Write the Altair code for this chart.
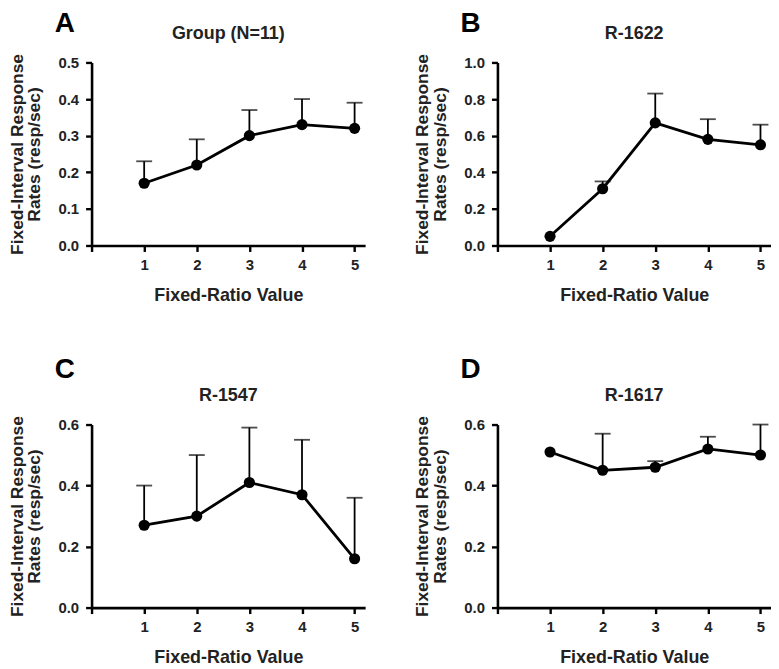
import altair as alt
import pandas as pd

ratio = [1, 2, 3, 4, 5]

a_mean = [0.17, 0.22, 0.30, 0.33, 0.32]
a_upper = [0.23, 0.29, 0.37, 0.40, 0.39]

b_mean = [0.05, 0.31, 0.67, 0.58, 0.55]
b_upper = [0.05, 0.35, 0.83, 0.69, 0.66]

c_mean = [0.27, 0.30, 0.41, 0.37, 0.16]
c_upper = [0.40, 0.50, 0.59, 0.55, 0.36]

d_mean = [0.51, 0.45, 0.46, 0.52, 0.50]
d_upper = [0.51, 0.57, 0.48, 0.56, 0.60]

letters = ["A", "B", "C", "D"]
titles = ["Group (N=11)", "R-1622", "R-1547", "R-1617"]
y_max = [0.5, 1.0, 0.6, 0.6]
y_ticks = [[0, 0.1, 0.2, 0.3, 0.4, 0.5],
           [0, 0.2, 0.4, 0.6, 0.8, 1.0],
           [0, 0.2, 0.4, 0.6],
           [0, 0.2, 0.4, 0.6]]
x_ticks = [0, 1, 2, 3, 4, 5]

FONT = "Liberation Sans"
W, H = 275, 184


def panel(mean, upper, letter, title, ymax, yticks, letter_y):
    df = pd.DataFrame({"ratio": ratio, "mean": mean, "upper": upper})
    xscale = alt.Scale(domain=[0, 5.2], nice=False, zero=False)
    xaxis = alt.Axis(values=x_ticks, labelExpr="datum.value == 0 ? '' : datum.label",
                     title="Fixed-Ratio Value")
    yscale = alt.Scale(domain=[0, ymax], nice=False)
    yaxis = alt.Axis(values=yticks, format=".1f", labelOverlap=False,
                     title=["Fixed-Interval Response", "Rates (resp/sec)"])

    def X():
        return alt.X("ratio:Q", scale=xscale, axis=xaxis)

    def Y(f):
        return alt.Y(f + ":Q", scale=yscale, axis=yaxis)

    base = alt.Chart(df)
    err = base.mark_rule(color="black", strokeWidth=1.8).encode(
        x=X(), y=Y("mean"), y2="upper:Q")
    cap = base.transform_filter("datum.upper > datum.mean").mark_tick(
        color="black", orient="horizontal", size=16, thickness=1.8).encode(
        x=X(), y=Y("upper"))
    line = base.mark_line(color="black", strokeWidth=2.8).encode(x=X(), y=Y("mean"))
    pts = base.mark_circle(color="black", opacity=1, size=125).encode(x=X(), y=Y("mean"))
    lab = alt.Chart(pd.DataFrame({"t": [letter]})).mark_text(
        font=FONT, fontSize=28, fontWeight="bold", color="black", align="center",
        baseline="middle").encode(text="t:N", x=alt.value(-27), y=alt.value(letter_y))
    ttl = alt.Chart(pd.DataFrame({"t": [title]})).mark_text(
        font=FONT, fontSize=18, fontWeight="bold", color="#222222", align="center",
        baseline="middle").encode(text="t:N", x=alt.value(W / 2), y=alt.value(-29))
    return alt.layer(err, cap, line, pts, lab, ttl).properties(width=W, height=H)


pA = panel(a_mean, a_upper, letters[0], titles[0], y_max[0], y_ticks[0], -39)
pB = panel(b_mean, b_upper, letters[1], titles[1], y_max[1], y_ticks[1], -39)
pC = panel(c_mean, c_upper, letters[2], titles[2], y_max[2], y_ticks[2], -55)
pD = panel(d_mean, d_upper, letters[3], titles[3], y_max[3], y_ticks[3], -55)

chart = alt.vconcat(
    alt.hconcat(pA, pB, spacing=49),
    alt.hconcat(pC, pD, spacing=49),
    spacing=52,
).properties(
    padding={"left": 0, "top": 0, "right": 0, "bottom": 0}
).configure_view(stroke=None).configure_axis(
    grid=False,
    domainColor="black", domainWidth=2.6,
    tickColor="black", tickWidth=2.4, tickSize=6,
    labelFont=FONT, labelFontSize=15, labelFontWeight="bold", labelColor="#222222",
    titleFont=FONT, titleFontSize=17.5, titleFontWeight="bold", titleColor="#222222",
).configure_axisY(titlePadding=14, titleLineHeight=18, labelPadding=7
).configure_axisX(titlePadding=14, labelPadding=6, titleFontSize=18)

chart.save("out.html", embed_options={"renderer": "svg", "actions": False})
